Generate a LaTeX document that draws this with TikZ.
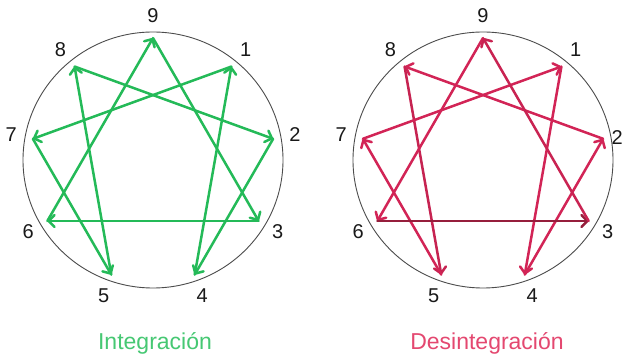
\documentclass[tikz,border=0pt]{standalone}
\usepackage{fontspec}
\setmainfont{Liberation Sans}
\usetikzlibrary{arrows.meta,calc}
\definecolor{intgreen}{RGB}{36,186,88}
\definecolor{titlegreen}{RGB}{70,200,115}
\definecolor{dispink}{RGB}{210,36,86}
\definecolor{disdark}{RGB}{150,30,60}
\definecolor{titlepink}{RGB}{228,72,112}
\begin{document}
\begin{tikzpicture}[x=1pt,y=1pt,
  ring/.style={draw=black!70,line width=0.9pt},
  num/.style={font=\fontsize{20}{20}\selectfont,inner sep=0pt,text=black!90},
  title/.style={font=\fontsize{23}{23}\selectfont,inner sep=0pt},
  arr/.style={line width=2.5pt,line cap=round,-{Straight Barb[length=6pt,width=12pt,round]}}]
\useasboundingbox[fill=white] (0,0) rectangle (624,358);
\coordinate (Lc) at (153,198);
\coordinate (Rc) at (483,198);
\draw[ring] (Lc) circle[x radius=130,y radius=128];
\draw[ring] (Rc) circle[x radius=130,y radius=128];
\foreach \k in {1,...,9}{
  \path (Lc) ++({90-40*\k}:122) coordinate (L\k);
  \path (Rc) ++({90-40*\k}:122) coordinate (R\k);
  \path (Lc) ++({90-40*\k}:144) node[num] (Ln\k) {\k};
}
\foreach \k in {1,3,4,5,6,7,8,9}{
  \path (Rc) ++({90-40*\k}:144) node[num] (Rn\k) {\k};
}
\node[num,anchor=east] (Rn2) at (623,220) {2};
% Integration
\draw[arr,intgreen] (L1) -- (L7);
\draw[arr,intgreen] (L7) -- (L5);
\draw[arr,intgreen] (L5) -- (L8);
\draw[arr,intgreen] (L8) -- (L2);
\draw[arr,intgreen] (L2) -- (L4);
\draw[arr,intgreen] (L4) -- (L1);
\draw[arr,intgreen] (L9) -- (L3);
\draw[arr,intgreen] (L3) -- (L6);
\draw[arr,intgreen] (L6) -- (L9);
% Disintegration
\draw[arr,dispink] (R1) -- (R4);
\draw[arr,dispink] (R4) -- (R2);
\draw[arr,dispink] (R2) -- (R8);
\draw[arr,dispink!80!disdark] (R8) -- (R5);
\draw[arr,dispink] (R5) -- (R7);
\draw[arr,dispink] (R7) -- (R1);
\draw[arr,dispink] (R9) -- (R6);
\draw[arr,disdark] (R6) -- (R3);
\draw[arr,dispink!85!disdark] (R3) -- (R9);
\node[title,text=titlegreen] (tl) at (155,15) {Integración};
\node[title,text=titlepink] (tr) at (487,15) {Desintegración};
\end{tikzpicture}
\end{document}
